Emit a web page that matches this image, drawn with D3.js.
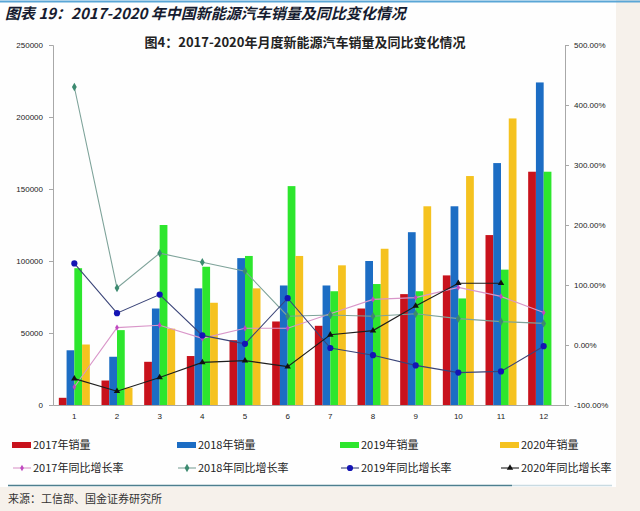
<!DOCTYPE html>
<html>
<head>
<meta charset="utf-8">
<script src="https://cdn.jsdelivr.net/npm/d3@7"></script>
<style>
  html, body { margin: 0; padding: 0; background: #f6f1eb; }
  svg { display: block; }
</style>
</head>
<body>
<div id="chart"></div>
<script>
// 月份与各年销量（辆）
var months = ['1','2','3','4','5','6','7','8','9','10','11','12'];
var sales2017 = [5000, 17000, 30000, 34000, 45000, 58000, 55000, 67000, 77000, 90000, 118000, 162000];
var sales2018 = [38000, 33500, 67000, 81000, 102000, 83000, 83000, 100000, 120000, 138000, 168000, 224000];
var sales2019 = [95000, 52000, 125000, 96000, 103500, 152000, 79000, 84000, 79000, 74000, 94000, 162000];
var sales2020 = [42000, 12000, 53000, 71000, 81000, 103500, 97000, 108500, 138000, 159000, 199000, null];
// 同比增长率（%）
var yoy2017 = [-70, 29, 33, 11, 28, 28, 52, 76, 79, 96, 81, 54];
var yoy2018 = [430, 95, 153, 138, 123, 48, 50, 48, 52, 44, 39, 36];
var yoy2019 = [136, 53, 84, 16, 2, 78, -5, -17, -34, -46, -44, -2];
var yoy2020 = [-56, -77, -54, -29, -26, -36, 17, 24, 65, 103, 103, null];
var leftTicks = [0, 50000, 100000, 150000, 200000, 250000];
var rightTicks = [-100, 0, 100, 200, 300, 400, 500];

var W = 640, H = 511;
var pL = 53, pR = 565, pT = 45, pB = 405;

var svg = d3.select('#chart').append('svg').attr('width', W).attr('height', H);

// 白色底板
svg.append('rect').attr('x', 0).attr('y', 0).attr('width', 616).attr('height', 487).attr('fill', '#fefefe');
svg.append('line').attr('x1', 0).attr('x2', 640).attr('y1', 1.5).attr('y2', 1.5).attr('stroke', '#5aa6d6').attr('stroke-width', 2);

// 大标题
svg.append('text').text('图表 19：2017-2020 年中国新能源汽车销量及同比变化情况')
  .attr('x', 5).attr('y', 19).attr('font-family', '"Noto Sans CJK SC", sans-serif')
  .attr('font-size', 15).attr('font-weight', 'bold').attr('font-style', 'italic').attr('fill', '#161c30');

// 图内标题
svg.append('text').text('图4：2017-2020年月度新能源汽车销量及同比变化情况')
  .attr('x', 305).attr('y', 47).attr('text-anchor', 'middle').attr('font-family', '"Noto Sans CJK SC", sans-serif')
  .attr('font-size', 13).attr('font-weight', 'bold').attr('fill', '#222');

var x0 = d3.scaleBand().domain(months).range([pL, pR]).padding(0);
var years = ['2017', '2018', '2019', '2020'];
var x1 = d3.scaleBand().domain(years).range([-15.5, 15.5]).padding(0);
var yL = d3.scaleLinear().domain([0, 250000]).range([pB, pT]);
var yR = d3.scaleLinear().domain([-100, 500]).range([pB, pT]);

var salesByYear = { '2017': sales2017, '2018': sales2018, '2019': sales2019, '2020': sales2020 };
var barColor = { '2017': '#c8121c', '2018': '#1c6dc4', '2019': '#2de62d', '2020': '#f5c21f' };
var cx = function(i){ return x0(months[i]) + x0.bandwidth() / 2; };
var pts = function(arr){ return arr.map(function(v, i){ return { i: i, v: v }; }).filter(function(d){ return d.v != null; }); };

// 坐标轴
var axL = svg.append('g').attr('transform', 'translate(' + pL + ',0)')
  .call(d3.axisLeft(yL).tickValues(leftTicks).tickSize(4).tickPadding(6).tickFormat(d3.format('d')));
var axR = svg.append('g').attr('transform', 'translate(' + pR + ',0)')
  .call(d3.axisRight(yR).tickValues(rightTicks).tickSize(4).tickPadding(5).tickFormat(function(d){ return d.toFixed(2) + '%'; }));
var axB = svg.append('g').attr('transform', 'translate(0,' + pB + ')')
  .call(d3.axisBottom(x0).tickSize(0).tickPadding(8));
[axL, axR, axB].forEach(function(g){
  g.selectAll('path, line').attr('stroke', '#a8a8a8');
  g.selectAll('text').attr('font-family', '"Liberation Sans", sans-serif').attr('font-size', 8).attr('fill', '#222');
});

// 柱子
years.forEach(function(yr){
  svg.append('g').selectAll('rect').data(pts(salesByYear[yr])).enter().append('rect')
    .attr('x', function(d){ return cx(d.i) + x1(yr); })
    .attr('y', function(d){ return yL(d.v); })
    .attr('width', x1.bandwidth())
    .attr('height', function(d){ return pB - yL(d.v); })
    .attr('fill', barColor[yr]);
});

// 折线
var lineSeries = [
  { data: yoy2017, line: '#d996c9', mark: '#c048c0', shape: d3.symbolDiamond, size: 12 },
  { data: yoy2018, line: '#7ea39a', mark: '#3c8a70', shape: d3.symbolDiamond, size: 20 },
  { data: yoy2019, line: '#3a4478', mark: '#1414b4', shape: d3.symbolCircle, size: 30 },
  { data: yoy2020, line: '#1e1e1e', mark: '#111', shape: d3.symbolTriangle, size: 18 }
];
lineSeries.forEach(function(s){
  var p = pts(s.data);
  var ln = d3.line().x(function(d){ return cx(d.i); }).y(function(d){ return yR(d.v); });
  svg.append('path').datum(p).attr('d', ln).attr('fill', 'none')
    .attr('stroke', s.line).attr('stroke-width', 1.1);
  svg.append('g').selectAll('path').data(p).enter().append('path')
    .attr('d', d3.symbol().type(s.shape).size(s.size))
    .attr('transform', function(d){ return 'translate(' + cx(d.i) + ',' + yR(d.v) + ')'; })
    .attr('fill', s.mark);
});

// 图例
var legendX = [12, 177, 340, 500];
var barNames = ['2017年销量', '2018年销量', '2019年销量', '2020年销量'];
var lineNames = ['2017年同比增长率', '2018年同比增长率', '2019年同比增长率', '2020年同比增长率'];
var lg = svg.append('g');
lg.selectAll('rect').data(years).enter().append('rect')
  .attr('x', function(d, i){ return legendX[i]; }).attr('y', 442).attr('width', 19).attr('height', 6)
  .attr('fill', function(d){ return barColor[d]; });
lg.selectAll('.bt').data(barNames).enter().append('text').text(function(d){ return d; })
  .attr('x', function(d, i){ return legendX[i] + 21; }).attr('y', 445).attr('dy', '.35em')
  .attr('font-family', '"Noto Sans CJK SC", sans-serif').attr('font-size', 11).attr('fill', '#222');
lg.selectAll('.ll').data(lineSeries).enter().append('line')
  .attr('x1', function(d, i){ return legendX[i] + 1; }).attr('x2', function(d, i){ return legendX[i] + 19; })
  .attr('y1', 468).attr('y2', 468).attr('stroke', function(d){ return d.line; }).attr('stroke-width', 1.1);
lg.selectAll('.lm').data(lineSeries).enter().append('path')
  .attr('d', function(d){ return d3.symbol().type(d.shape).size(d.size)(); })
  .attr('transform', function(d, i){ return 'translate(' + (legendX[i] + 10) + ',468)'; })
  .attr('fill', function(d){ return d.mark; });
lg.selectAll('.lt').data(lineNames).enter().append('text').text(function(d){ return d; })
  .attr('x', function(d, i){ return legendX[i] + 21; }).attr('y', 468).attr('dy', '.35em')
  .attr('font-family', '"Noto Sans CJK SC", sans-serif').attr('font-size', 11).attr('fill', '#222');

// 分隔线与来源
svg.append('line').attr('x1', 8).attr('x2', 512).attr('y1', 485.5).attr('y2', 485.5).attr('stroke', '#4d7f8e').attr('stroke-width', 1.5);
svg.append('line').attr('x1', 512).attr('x2', 612).attr('y1', 485.5).attr('y2', 485.5).attr('stroke', '#c9dbe2').attr('stroke-width', 1.5);
svg.append('text').text('来源：工信部、国金证券研究所')
  .attr('x', 8).attr('y', 503).attr('font-family', '"Noto Sans CJK SC", sans-serif')
  .attr('font-size', 11).attr('fill', '#333');
</script>
</body>
</html>
